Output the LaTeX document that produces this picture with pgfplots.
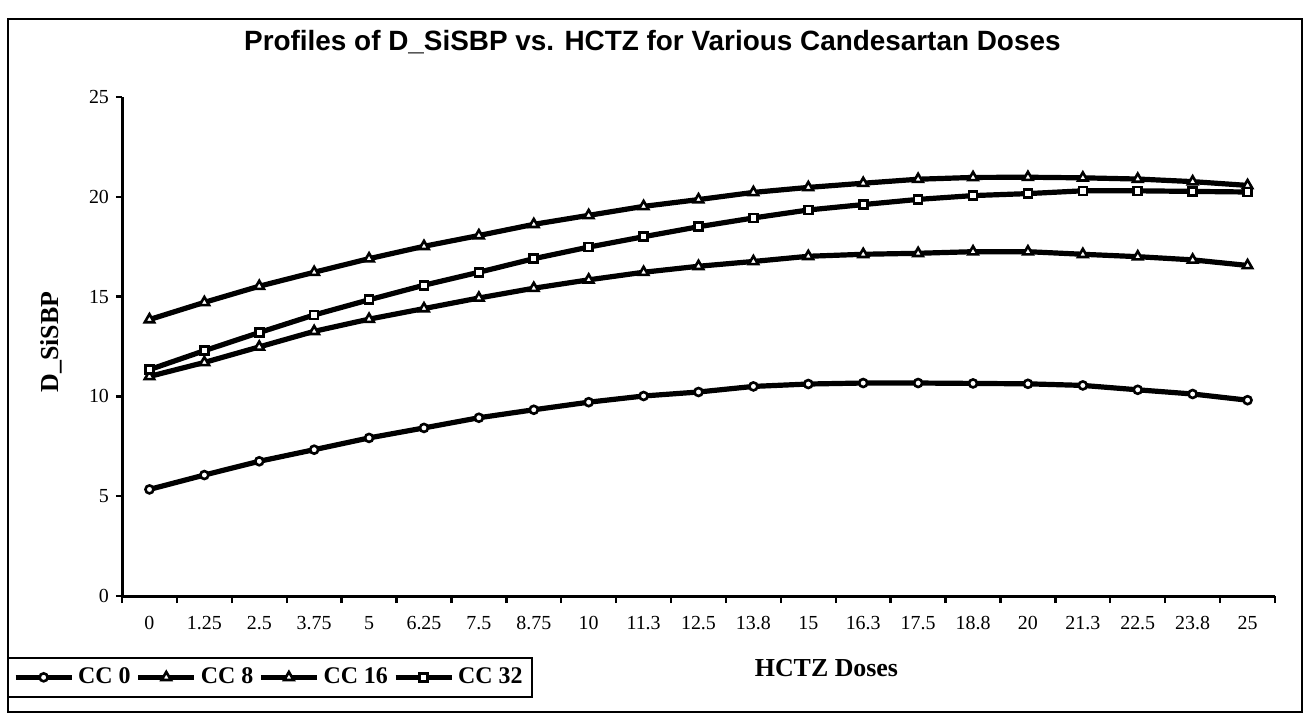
\documentclass[border=0pt]{standalone}
\usepackage{fontspec}
\setmainfont{Liberation Serif}
\newfontfamily\arialfont{Liberation Sans}
\usepackage{pgfplots}
\usepackage{pgfplotstable}
\pgfplotsset{compat=1.18}
\pgfplotstableread{
x cc0 cc8 cc16 cc32
0 5.34 13.85 11.00 11.34
1 6.06 14.71 11.70 12.29
2 6.75 15.52 12.48 13.20
3 7.33 16.22 13.26 14.08
4 7.92 16.90 13.87 14.84
5 8.42 17.52 14.40 15.57
6 8.93 18.06 14.93 16.22
7 9.33 18.62 15.42 16.90
8 9.71 19.07 15.84 17.48
9 10.02 19.52 16.22 18.00
10 10.22 19.86 16.52 18.50
11 10.50 20.22 16.76 18.94
12 10.62 20.47 17.02 19.34
13 10.67 20.68 17.12 19.61
14 10.67 20.88 17.17 19.87
15 10.65 20.97 17.25 20.06
16 10.63 20.98 17.25 20.16
17 10.55 20.95 17.12 20.30
18 10.33 20.89 17.00 20.30
19 10.12 20.76 16.84 20.27
20 9.81 20.57 16.56 20.24
}\datatable
\begin{document}
\begin{tikzpicture}
\path (0,0) rectangle (654bp,360.5bp);
\draw[line width=1bp] (4bp,4.5bp) rectangle (651bp,351bp);
\begin{axis}[
  at={(61bp,62.5bp)}, anchor=south west,
  scale only axis, width=576.5bp, height=249.5bp,
  clip=false,
  xmin=-0.5, xmax=20.5, ymin=0, ymax=25,
  axis lines*=left,
  axis line style={line width=1.5bp, black},
  xtick={0,...,20},
  xticklabels={0,1.25,2.5,3.75,5,6.25,7.5,8.75,10,11.3,12.5,13.8,15,16.3,17.5,18.8,20,21.3,22.5,23.8,25},
  minor xtick={-0.5,0.5,...,20.5},
  ytick={0,5,...,25},
  tick align=outside,
  major tick length=3bp, minor tick length=3.5bp,
  major x tick style={draw=none},
  minor x tick style={line width=1.2bp, black},
  major y tick style={line width=1.2bp, black},
  /pgf/number format/assume math mode=true,
  tick label style={font=\fontsize{10}{12}\selectfont},
  xticklabel style={yshift=-3.5bp},
  title={Profiles of D\_SiSBP vs. HCTZ for Various Candesartan Doses},
  title style={font=\arialfont\bfseries\fontsize{14}{16}\selectfont, at={(axis description cs:0.46,1.11)}, anchor=center, yshift=-6pt},
  xlabel={HCTZ Doses},
  xlabel style={font=\bfseries\fontsize{13}{15}\selectfont, at={(axis description cs:0.611,-0.144)}, anchor=center},
  ylabel={D\_SiSBP},
  ylabel style={font=\bfseries\fontsize{13}{15}\selectfont, at={(axis description cs:-0.0616,0.509)}, anchor=center, rotate=0},
  every axis plot/.append style={line width=2.6bp, black, mark options={solid, fill=white, line width=1.3bp}},
  legend columns=4,
  legend image code/.code={\draw[mark repeat=2,mark phase=2,#1] plot coordinates {(0bp,0bp)(14bp,0bp)(28bp,0bp)};},
  legend style={at={(axis description cs:-0.0997,-0.163)}, anchor=west, draw=black, line width=1bp,
    font=\bfseries\fontsize{12}{14}\selectfont, inner xsep=2.5bp, inner ysep=3bp,
    /tikz/every even column/.append style={column sep=0.5bp}},
]
\addplot[mark=*, mark size=2bp] table[x=x,y=cc0] {\datatable};
\addlegendentry{CC 0}
\addplot[mark=triangle*, mark size=2.7bp] table[x=x,y=cc8] {\datatable};
\addlegendentry{CC 8}
\addplot[mark=triangle*, mark size=2.7bp] table[x=x,y=cc16] {\datatable};
\addlegendentry{CC 16}
\addplot[mark=square*, mark size=2bp] table[x=x,y=cc32] {\datatable};
\addlegendentry{CC 32}
\end{axis}
\end{tikzpicture}
\end{document}
